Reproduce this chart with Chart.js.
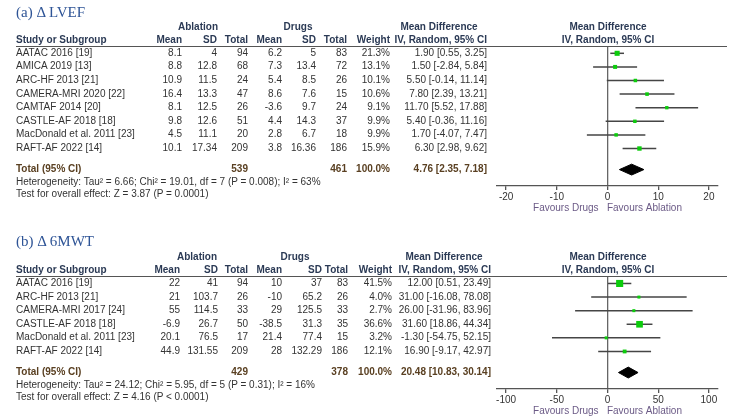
<!DOCTYPE html>
<html>
<head>
<title>Forest plots: LVEF and 6MWT</title>
<script src="https://cdn.jsdelivr.net/npm/chart.js"></script>
<style>
    body { margin: 0; width: 734px; height: 420px; background: #fff; overflow: hidden; position: relative; }
    canvas { position: absolute; left: 0; }
    .t { position: absolute; height: 14px; line-height: 14px; font: 10px 'Liberation Sans', Arial, sans-serif; color: #333; white-space: nowrap; }
    .h { font-weight: bold; color: #2b3a55; }
    .tot { font-weight: bold; color: #5a4022; }
    .title { font: 15px 'Liberation Serif', 'Times New Roman', serif; color: #2e5496; height: 18px; line-height: 18px; }
    .rule { position: absolute; height: 0; border-top: 1.5px solid #555; }
</style>
</head>
<body>
<canvas id="chartA" width="734" height="214"></canvas>
<canvas id="chartB" width="734" height="190"></canvas>
<script>
// (a) LVEF
var studiesA = ["AATAC 2016 [19]", "AMICA  2019 [13]", "ARC-HF 2013 [21]", "CAMERA-MRI  2020 [22]", "CAMTAF  2014 [20]", "CASTLE-AF  2018 [18]", "MacDonald et al.  2011 [23]", "RAFT-AF 2022 [14]"];
var ablMeanA = [8.1, 8.8, 10.9, 16.4, 8.1, 9.8, 4.5, 10.1];
var ablSdA = [4, 12.8, 11.5, 13.3, 12.5, 12.6, 11.1, 17.34];
var ablNA = [94, 68, 24, 47, 26, 51, 20, 209];
var drugMeanA = [6.2, 7.3, 5.4, 8.6, -3.6, 4.4, 2.8, 3.8];
var drugSdA = [5, 13.4, 8.5, 7.6, 9.7, 14.3, 6.7, 16.36];
var drugNA = [83, 72, 26, 15, 24, 37, 18, 186];
var weightA = [21.3, 13.1, 10.1, 10.6, 9.1, 9.9, 9.9, 15.9];
var mdA = [1.90, 1.50, 5.50, 7.80, 11.70, 5.40, 1.70, 6.30];
var loA = [0.55, -2.84, -0.14, 2.39, 5.52, -0.36, -4.07, 2.98];
var hiA = [3.25, 5.84, 11.14, 13.21, 17.88, 11.16, 7.47, 9.62];
var totalNA = [539, 461];
var totalA = [4.76, 2.35, 7.18];
var xTicksA = [-20, -10, 0, 10, 20];
var hetA = "Heterogeneity: Tau\u00b2 = 6.66; Chi\u00b2 = 19.01, df = 7 (P = 0.008); I\u00b2 = 63%";
var testA = "Test for overall effect: Z = 3.87 (P = 0.0001)";

// (b) 6MWT
var studiesB = ["AATAC 2016 [19]", "ARC-HF 2013 [21]", "CAMERA-MRI 2017 [24]", "CASTLE-AF  2018 [18]", "MacDonald et al.  2011 [23]", "RAFT-AF 2022 [14]"];
var ablMeanB = [22, 21, 55, -6.9, 20.1, 44.9];
var ablSdB = [41, 103.7, 114.5, 26.7, 76.5, 131.55];
var ablNB = [94, 26, 33, 50, 17, 209];
var drugMeanB = [10, -10, 29, -38.5, 21.4, 28];
var drugSdB = [37, 65.2, 125.5, 31.3, 77.4, 132.29];
var drugNB = [83, 26, 33, 35, 15, 186];
var weightB = [41.5, 4.0, 2.7, 36.6, 3.2, 12.1];
var mdB = [12.00, 31.00, 26.00, 31.60, -1.30, 16.90];
var loB = [0.51, -16.08, -31.96, 18.86, -54.75, -9.17];
var hiB = [23.49, 78.08, 83.96, 44.34, 52.15, 42.97];
var totalNB = [429, 378];
var totalB = [20.48, 10.83, 30.14];
var xTicksB = [-100, -50, 0, 50, 100];
var hetB = "Heterogeneity: Tau\u00b2 = 24.12; Chi\u00b2 = 5.95, df = 5 (P = 0.31); I\u00b2 = 16%";
var testB = "Test for overall effect: Z = 4.16 (P < 0.0001)";

function put(text, x, y, align, cls) {
    var d = document.createElement('div');
    d.className = 't ' + (cls || '');
    d.textContent = text;
    d.style.top = (y - 6.5) + 'px';
    if (align === 'right') {
        d.style.right = (734 - x) + 'px';
        d.style.textAlign = 'right';
    } else if (align === 'center') {
        d.style.left = (x - 100) + 'px';
        d.style.width = '200px';
        d.style.textAlign = 'center';
    } else {
        d.style.left = x + 'px';
    }
    document.body.appendChild(d);
    return d;
}

function ci(e, l, h) {
    return e.toFixed(2) + ' [' + l.toFixed(2) + ', ' + h.toFixed(2) + ']';
}

function buildPanel(p) {
    var n = p.studies.length;
    var totRow = n + 0.55;
    var datasets = [];
    // weighted squares
    datasets.push({
        data: p.md.map(function(e, i) { return {x: e, y: i}; }),
        showLine: false,
        pointStyle: 'rect',
        pointRadius: p.weight.map(function(w) { return Math.max(3, 1.1 * Math.sqrt(w)) / 1.414; }),
        pointHoverRadius: 0,
        backgroundColor: '#0ccc0c',
        borderWidth: 0,
        pointBorderWidth: 0,
        order: 0
    });
    // confidence intervals
    for (var i = 0; i < n; i++) {
        datasets.push({
            data: [{x: p.lo[i], y: i}, {x: p.hi[i], y: i}],
            borderColor: '#454545',
            borderWidth: 1.5,
            pointRadius: 0,
            order: 1
        });
    }
    // pooled diamond
    var t = p.total;
    var hd = 0.4;
    datasets.push({
        data: [{x: t[1], y: totRow}, {x: t[0], y: totRow - hd}, {x: t[2], y: totRow}, {x: t[0], y: totRow + hd}, {x: t[1], y: totRow}],
        borderColor: '#000',
        backgroundColor: '#000',
        borderWidth: 1,
        fill: 'shape',
        pointRadius: 0,
        tension: 0,
        order: 0
    });

    var canvas = document.getElementById(p.id);
    canvas.style.top = p.top + 'px';
    var chart = new Chart(canvas.getContext('2d'), {
        type: 'line',
        data: { datasets: datasets },
        options: {
            responsive: false,
            animation: false,
            layout: { padding: { left: 497, right: 16, top: p.padTop, bottom: p.padBottom } },
            plugins: { legend: { display: false }, tooltip: { enabled: false } },
            scales: {
                x: {
                    type: 'linear',
                    min: p.xMin,
                    max: p.xMax,
                    afterBuildTicks: function(s) { s.ticks = p.ticks.map(function(v) { return {value: v}; }); },
                    afterFit: function(s) { s.height = 28; },
                    border: { display: true, color: '#555', width: 1.3 },
                    grid: {
                        drawOnChartArea: true,
                        color: function(c) { return c.tick && c.tick.value === 0 ? '#666' : 'rgba(0,0,0,0)'; },
                        lineWidth: 1.3,
                        tickColor: '#555',
                        tickLength: 4
                    },
                    ticks: { color: '#333', padding: 1, font: { family: "'Liberation Sans', Arial", size: 10 } },
                    title: {
                        display: true,
                        text: 'Favours Drugs   Favours Ablation',
                        color: '#6b5a86',
                        padding: { top: 0, bottom: 0 },
                        font: { family: "'Liberation Sans', Arial", size: 10 }
                    }
                },
                y: {
                    type: 'linear',
                    display: false,
                    reverse: true,
                    min: p.yMin,
                    max: p.yMax
                }
            }
        }
    });

    var ys = chart.scales.y;
    var area = chart.chartArea;
    var rowY = function(v) { return p.top + ys.getPixelForValue(v); };
    var lineY = p.top + area.top;
    var c = p.cols;

    // title and header
    var tt = put(p.title, 16, p.titleY, 'left', 'title');
    tt.style.top = (p.titleY - 9) + 'px';
    var rule = document.createElement('div');
    rule.className = 'rule';
    rule.style.left = '16px';
    rule.style.width = '711px';
    rule.style.top = lineY + 'px';
    document.body.appendChild(rule);

    var h1 = lineY - 19, h2 = lineY - 6;
    put('Ablation', c.ablHead, h1, 'center', 'h');
    put('Drugs', c.drugHead, h1, 'center', 'h');
    put('Mean Difference', c.mdHead, h1, 'center', 'h');
    put('Mean Difference', 608, h1, 'center', 'h');
    put('Study or Subgroup', 16, h2, 'left', 'h');
    put('Mean', c.abl[0], h2, 'right', 'h');
    put('SD', c.abl[1], h2, 'right', 'h');
    put('Total', c.abl[2], h2, 'right', 'h');
    put('Mean', c.drug[0], h2, 'right', 'h');
    put('SD', c.drug[1], h2, 'right', 'h');
    put('Total', c.drug[2], h2, 'right', 'h');
    put('Weight', c.w, h2, 'right', 'h');
    put('IV, Random, 95% CI', c.ci, h2, 'right', 'h');
    put('IV, Random, 95% CI', 608, h2, 'center', 'h');

    // study rows
    for (var k = 0; k < n; k++) {
        var y = rowY(k);
        put(p.studies[k], 16, y, 'left');
        put(String(p.ablMean[k]), c.abl[0], y, 'right');
        put(String(p.ablSd[k]), c.abl[1], y, 'right');
        put(String(p.ablN[k]), c.abl[2], y, 'right');
        put(String(p.drugMean[k]), c.drug[0], y, 'right');
        put(String(p.drugSd[k]), c.drug[1], y, 'right');
        put(String(p.drugN[k]), c.drug[2], y, 'right');
        put(p.weight[k].toFixed(1) + '%', c.w, y, 'right');
        put(ci(p.md[k], p.lo[k], p.hi[k]), c.ci, y, 'right');
    }

    // total rows
    var ty = rowY(totRow);
    put('Total (95% CI)', 16, ty, 'left', 'tot');
    put(String(p.totalN[0]), c.abl[2], ty, 'right', 'tot');
    put(String(p.totalN[1]), c.drug[2], ty, 'right', 'tot');
    put('100.0%', c.w, ty, 'right', 'tot');
    put(ci(t[0], t[1], t[2]), c.ci, ty, 'right', 'tot');
    put(p.het, 16, ty + 12.5, 'left');
    put(p.test, 16, ty + 25, 'left');
    return chart;
}

var chartA = buildPanel({
    id: 'chartA', top: 0, padTop: 46, padBottom: 0,
    title: '(a) \u0394 LVEF', titleY: 12,
    xMin: -21.8, xMax: 21.8, ticks: xTicksA,
    yMin: -0.537, yMax: 9.757,
    cols: { abl: [182, 217, 248], drug: [282, 316, 347], w: 390, ci: 487, ablHead: 198, drugHead: 298, mdHead: 439 },
    studies: studiesA, ablMean: ablMeanA, ablSd: ablSdA, ablN: ablNA,
    drugMean: drugMeanA, drugSd: drugSdA, drugN: drugNA,
    weight: weightA, md: mdA, lo: loA, hi: hiA,
    totalN: totalNA, total: totalA, het: hetA, test: testA
});

var chartB = buildPanel({
    id: 'chartB', top: 230, padTop: 46, padBottom: 3,
    title: '(b) \u0394 6MWT', titleY: 241,
    xMin: -109, xMax: 109, ticks: xTicksB,
    yMin: -0.55, yMax: 7.76,
    cols: { abl: [180, 218, 248], drug: [282, 322, 348], w: 392, ci: 491, ablHead: 197, drugHead: 295, mdHead: 444 },
    studies: studiesB, ablMean: ablMeanB, ablSd: ablSdB, ablN: ablNB,
    drugMean: drugMeanB, drugSd: drugSdB, drugN: drugNB,
    weight: weightB, md: mdB, lo: loB, hi: hiB,
    totalN: totalNB, total: totalB, het: hetB, test: testB
});
</script>
</body>
</html>
